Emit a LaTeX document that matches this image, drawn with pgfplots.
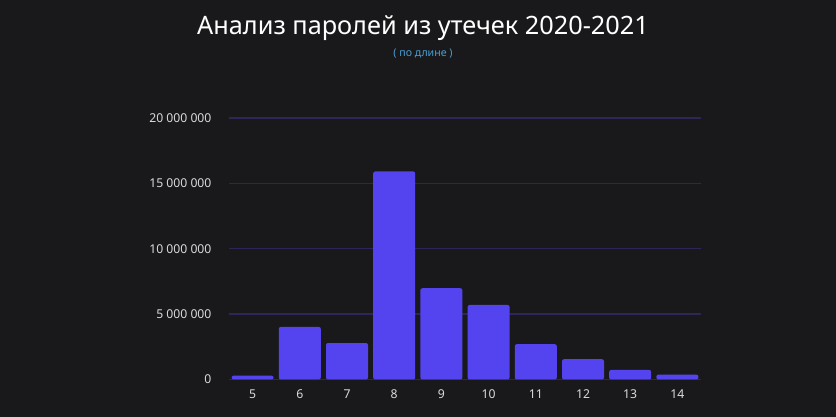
\documentclass[border=0pt]{standalone}
\usepackage{fontspec}
\setmainfont{Noto Sans}
\usepackage{pgfplots}
\pgfplotsset{compat=1.18}
\definecolor{bg}{HTML}{19191B}
\definecolor{barc}{HTML}{5444F0}
\definecolor{gridc}{HTML}{2C2758}
\definecolor{tickc}{HTML}{DADADA}
\definecolor{subc}{HTML}{4A9FD6}
\begin{document}
\begin{tikzpicture}
\fill[bg] (0pt,0pt) rectangle (836pt,417pt);
\useasboundingbox (0pt,0pt) rectangle (836pt,417pt);
\node[anchor=base, text=white, font=\fontsize{25.3}{30}\selectfont, inner sep=0pt] at (423pt,382pt) {Анализ паролей из утечек 2020-2021};
\node[anchor=base, text=subc, font=\fontsize{10.6}{12}\selectfont, inner sep=0pt] at (423pt,360pt) {( по длине )};
\begin{axis}[
  at={(229pt,37.5pt)}, anchor=south west,
  scale only axis, width=472pt, height=261.5pt,
  xmin=4.5, xmax=14.5, ymin=0, ymax=20000000,
  clip=false,
  axis line style={draw=none},
  major tick style={draw=none},
  ymajorgrids, grid style={gridc, line width=1.3pt},
  ytick={0,5000000,10000000,15000000,20000000},
  yticklabels={0,5 000 000,10 000 000,15 000 000,20 000 000},
  scaled y ticks=false,
  xtick={5,6,7,8,9,10,11,12,13,14},
  xticklabels={5,6,7,8,9,10,11,12,13,14},
  ticklabel style={text=tickc, font=\fontsize{12.2}{14}\selectfont},
  yticklabel style={xshift=-14pt},
  xticklabel style={yshift=-2pt},
  ybar, bar width=42pt,
]
\addplot[fill=barc, draw=none, rounded corners=2pt] coordinates {
(5,290000) (6,4020000) (7,2790000) (8,15910000) (9,6980000)
(10,5700000) (11,2700000) (12,1550000) (13,730000) (14,370000)};
\end{axis}
\end{tikzpicture}
\end{document}
